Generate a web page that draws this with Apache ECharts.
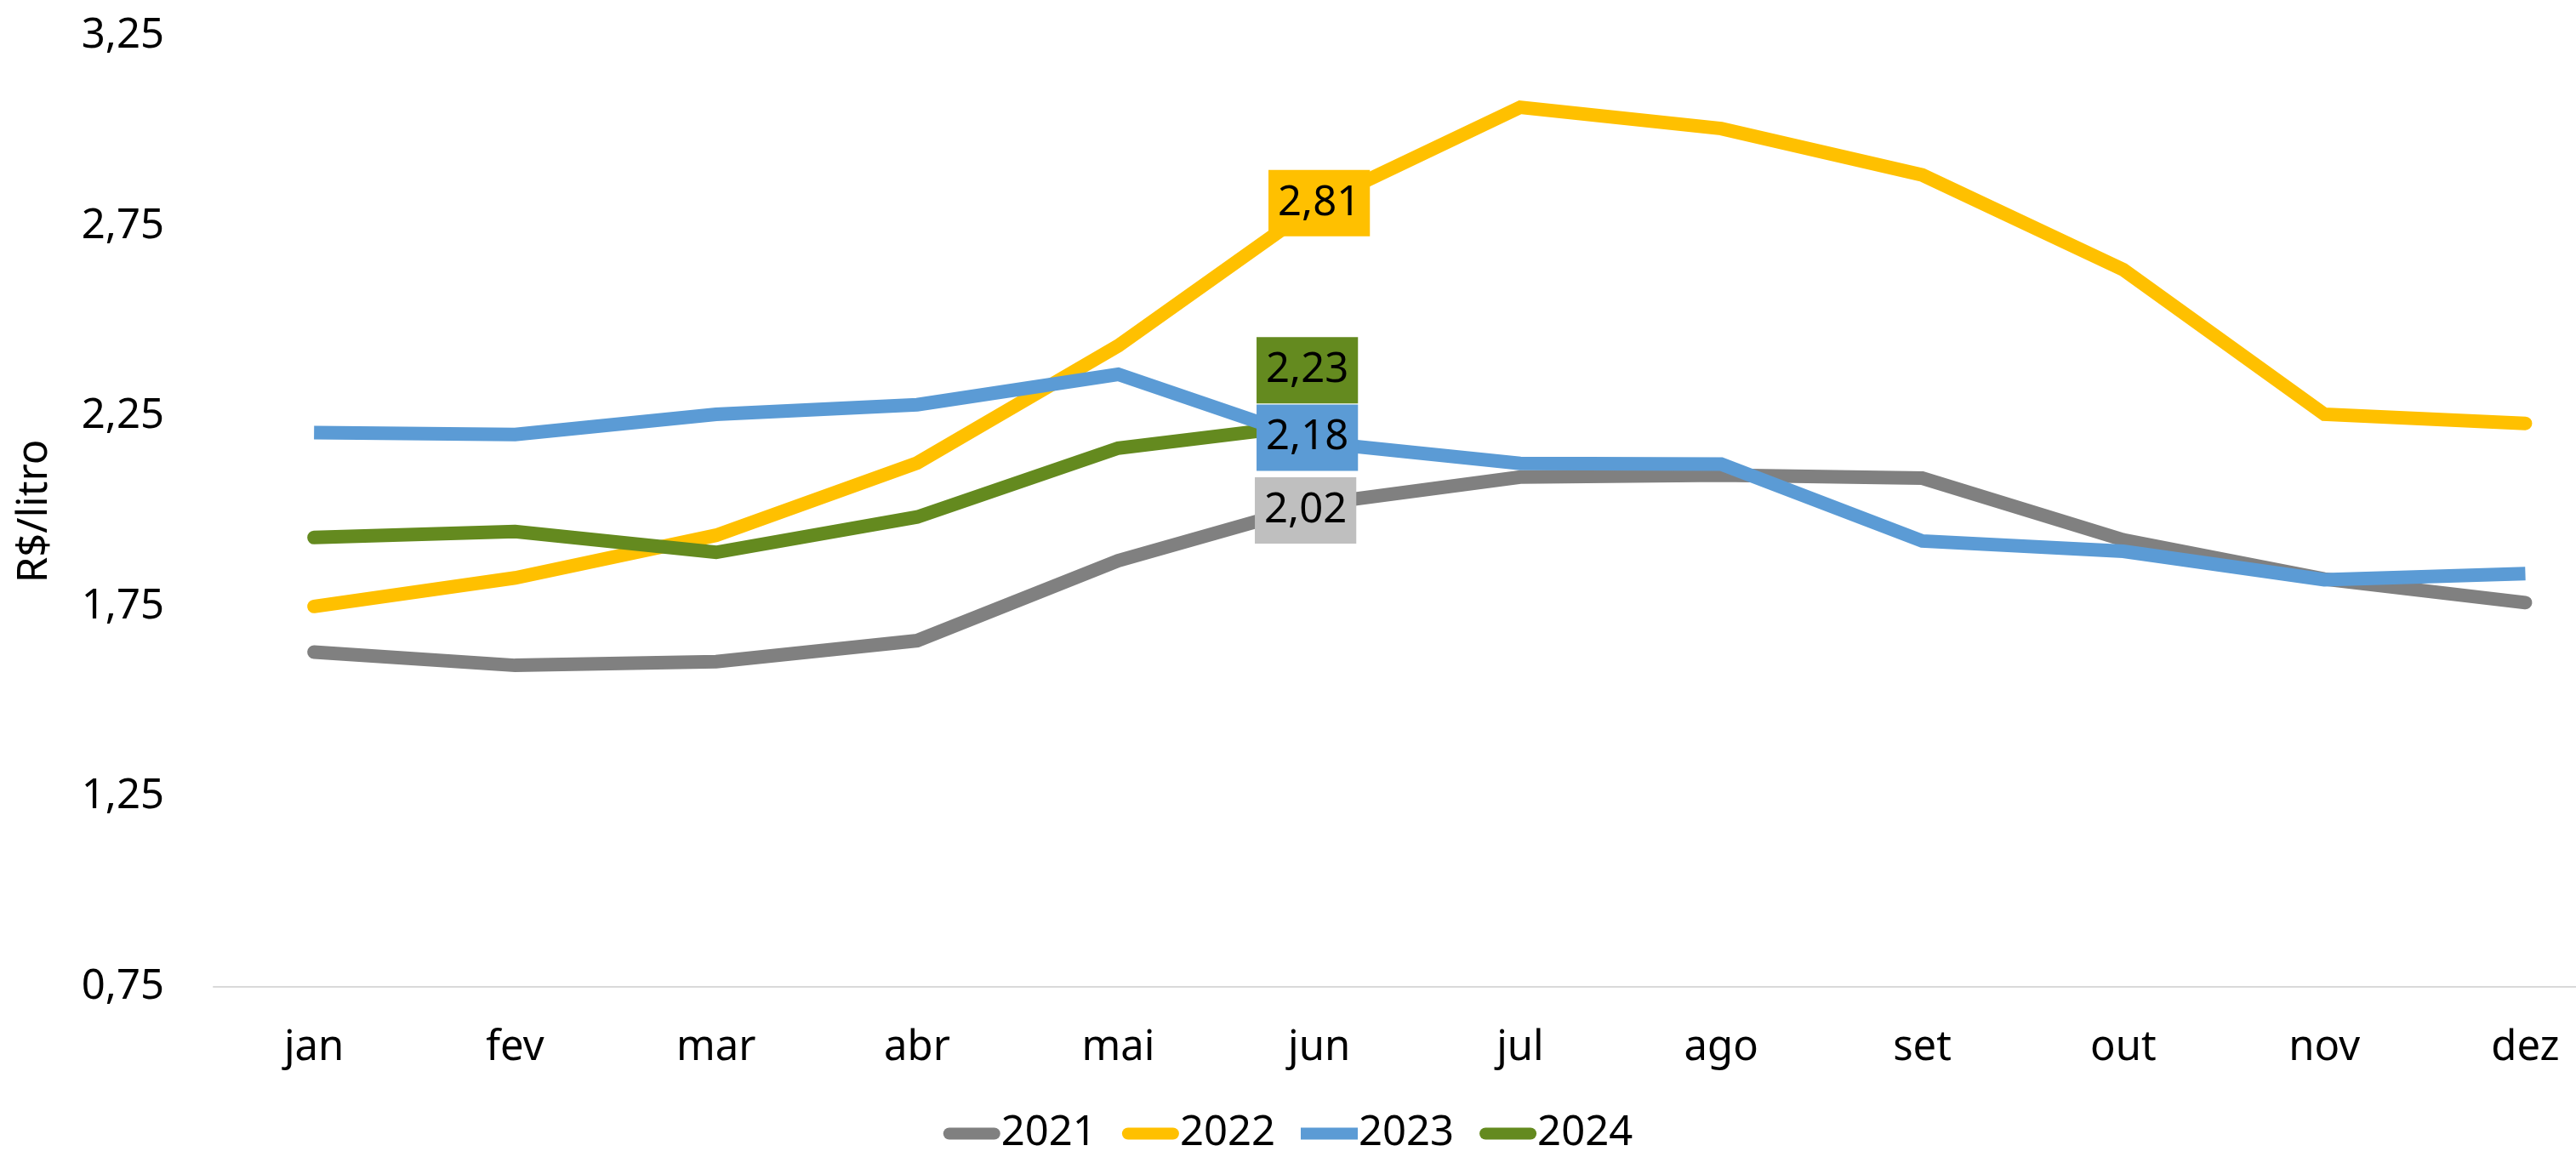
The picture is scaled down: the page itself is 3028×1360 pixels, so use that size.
<!DOCTYPE html>
<html lang="pt">
<head>
    <meta charset="UTF-8">
    <title>R$/litro 2021-2024</title>
    <script src="https://cdn.jsdelivr.net/npm/echarts@6/dist/echarts.min.js"></script>
    <style>
        html, body { margin: 0; padding: 0; background: #fff; }
        #main { width: 3028px; height: 1360px; }
    </style>
</head>
<body>
<div id="main"></div>
<script>
var meses = ['jan', 'fev', 'mar', 'abr', 'mai', 'jun', 'jul', 'ago', 'set', 'out', 'nov', 'dez'];
var anos = ['2021', '2022', '2023', '2024'];
var v2021 = [1.63, 1.595, 1.605, 1.66, 1.87, 2.02, 2.09, 2.095, 2.087, 1.925, 1.822, 1.76];
var v2022 = [1.75, 1.825, 1.937, 2.127, 2.435, 2.81, 3.062, 3.006, 2.884, 2.635, 2.255, 2.231];
var v2023 = [2.207, 2.202, 2.255, 2.28, 2.36, 2.18, 2.126, 2.124, 1.922, 1.895, 1.82, 1.836];
var v2024 = [1.931, 1.947, 1.892, 1.985, 2.166, 2.23];
var yTicks = ['0,75', '1,25', '1,75', '2,25', '2,75', '3,25'];

var cores = ['#808080', '#FFC000', '#5B9BD5', '#648A1F'];
var fundoRotulo = ['#BFBFBF', '#FFC000', '#5B9BD5', '#648A1F'];
var deslocRotulo = [[-16, 8], [0, 0], [-14, -6], [-14, -63]];  // posição dos rótulos de junho
var fonte = 'Noto Sans';
var capsula = 'path://M7,0 H60 A7,7 0 0 1 60,14 H7 A7,7 0 0 1 7,0 Z';

function virgula(v) {
    return v.toFixed(2).replace('.', ',');
}

// só o ponto de junho leva rótulo
function montaDados(valores, i) {
    return valores.map(function (v, idx) {
        if (idx !== 5) return v;
        return {
            value: v,
            label: {
                show: true,
                position: 'inside',
                offset: deslocRotulo[i],
                backgroundColor: fundoRotulo[i],
                color: '#000',
                fontFamily: fonte,
                fontSize: 49,
                lineHeight: 58,
                padding: [10, 11, 10, 11],
                formatter: function (p) { return virgula(p.value); }
            }
        };
    });
}

var series = [v2021, v2022, v2023, v2024].map(function (valores, i) {
    return {
        name: anos[i],
        type: 'line',
        data: montaDados(valores, i),
        symbol: 'circle',
        symbolSize: 0.1,
        showSymbol: true,
        itemStyle: { color: cores[i] },
        lineStyle: { color: cores[i], width: 16, cap: i === 2 ? 'butt' : 'round', join: 'miter' },
        emphasis: { disabled: true },
        animation: false,
        z: i === 2 ? 3 : 2
    };
});

var myChart = echarts.init(document.getElementById('main'));
myChart.setOption({
    backgroundColor: '#fff',
    animation: false,
    grid: {
        left: 251,
        top: 42,
        width: 12 * 236.3,   // a última categoria fica cortada na borda direita
        bottom: 200,
        outerBoundsMode: 'none'
    },
    legend: {
        data: anos.map(function (a, i) { return { name: a, icon: i === 2 ? 'rect' : capsula }; }),
        left: 'center',
        top: 1303,
        itemWidth: 67,
        itemHeight: 14,
        itemGap: 30,
        textStyle: { fontFamily: fonte, fontSize: 49, color: '#000', padding: [0, 0, 0, -4] }
    },
    xAxis: {
        type: 'category',
        data: meses,
        boundaryGap: true,
        axisLine: { lineStyle: { color: '#D9D9D9', width: 2 } },
        axisTick: { show: false },
        axisLabel: { fontFamily: fonte, fontSize: 49, color: '#000', margin: 48 }
    },
    yAxis: {
        type: 'value',
        min: 0.75,
        max: 3.25,
        interval: 0.25,
        name: 'R$/litro',
        nameLocation: 'middle',
        nameRotate: 90,
        nameGap: 185,
        nameTextStyle: { fontFamily: fonte, fontSize: 49, color: '#000' },
        axisLine: { show: false },
        axisTick: { show: false },
        splitLine: { show: false },
        axisLabel: {
            fontFamily: fonte,
            fontSize: 49,
            color: '#000',
            margin: 58,
            formatter: function (v) {
                var k = Math.round((v - 0.75) / 0.25);
                return k % 2 === 0 ? yTicks[k / 2] : '';
            }
        }
    },
    series: series
});
</script>
</body>
</html>
